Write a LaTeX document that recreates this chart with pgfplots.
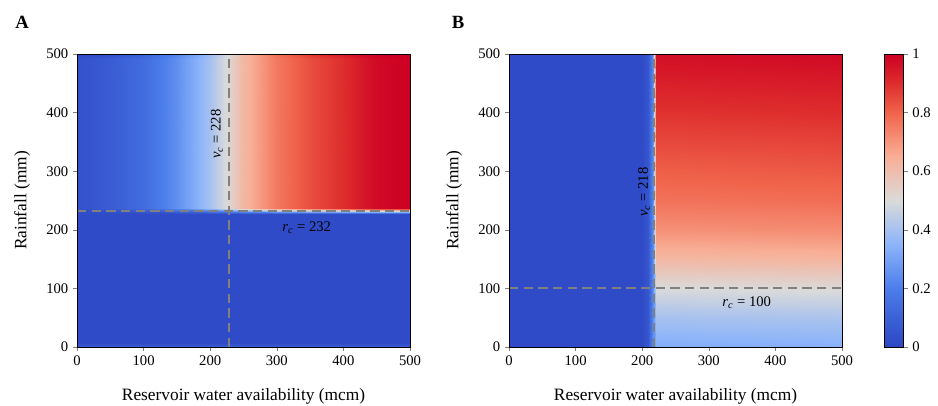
\documentclass[border=0pt]{standalone}
\usepackage{fontspec}
\setmainfont{Liberation Serif}
\usepackage{pgfplots}
\pgfplotsset{compat=1.18}

% blue - grey - red map
\pgfplotsset{
  colormap={cw}{
    rgb255(0pt)=(45,70,195)
    rgb255(4pt)=(75,125,235)
    rgb255(7pt)=(140,180,250)
    rgb255(10pt)=(218,218,218)
    rgb255(13pt)=(248,175,150)
    rgb255(16pt)=(240,100,75)
    rgb255(18pt)=(222,45,45)
    rgb255(20pt)=(205,0,35)
  },
  /pgf/number format/assume math mode=true,
  heat/.style={
    scale only axis,
    width=249.75pt, height=219.75pt,
    xmin=0, xmax=500, ymin=0, ymax=500,
    xtick={0,100,...,500}, ytick={0,100,...,500},
    tick align=outside, xtick pos=bottom, ytick pos=left,
    major tick length=3pt,
    axis on top,
    colormap name=cw,
    point meta min=0, point meta max=1,
    tick label style={font=\fontsize{11}{11}\selectfont},
    every axis x label/.style={at={(axis description cs:0.5,-0.167)}, anchor=center,
      font=\fontsize{13}{13}\selectfont},
    every axis y label/.style={at={(axis description cs:-0.165,0.5)}, rotate=90, anchor=center,
      font=\fontsize{13}{13}\selectfont},
    xlabel={Reservoir water availability (mcm)},
    ylabel={Rainfall (mm)},
  },
  crit/.style={gray, line width=1.5pt, dash pattern=on 7pt off 4pt},
}

\pgfplotstableread{
x y c
0 0 0.10
50 0 0.10
100 0 0.10
150 0 0.10
200 0 0.10
228 0 0.10
250 0 0.10
300 0 0.10
350 0 0.10
400 0 0.10
430 0 0.10
450 0 0.10
500 0 0.10
0 6 0.02
50 6 0.02
100 6 0.02
150 6 0.02
200 6 0.02
228 6 0.02
250 6 0.02
300 6 0.02
350 6 0.02
400 6 0.02
430 6 0.02
450 6 0.02
500 6 0.02
0 227 0.02
50 227 0.02
100 227 0.02
150 227 0.02
200 227 0.02
228 227 0.02
250 227 0.02
300 227 0.02
350 227 0.02
400 227 0.02
430 227 0.02
450 227 0.02
500 227 0.02
0 238 0.04
50 238 0.08
100 238 0.14
150 238 0.25
200 238 0.40
228 238 0.52
250 238 0.62
300 238 0.76
350 238 0.84
400 238 0.90
430 238 0.95
450 238 0.98
500 238 1.00
0 492 0.04
50 492 0.08
100 492 0.14
150 492 0.25
200 492 0.40
228 492 0.52
250 492 0.62
300 492 0.76
350 492 0.84
400 492 0.90
430 492 0.95
450 492 0.98
500 492 1.00
0 500 0.00
50 500 0.03
100 500 0.10
150 500 0.22
200 500 0.38
228 500 0.50
250 500 0.62
300 500 0.78
350 500 0.88
400 500 0.94
430 500 0.98
450 500 1.00
500 500 1.00
}\dataA

\pgfplotstableread{
x y c
0 0 0.02
200 0 0.02
208 0 0.06
216 0 0.25
220 0 0.33
500 0 0.34
0 50 0.02
200 50 0.02
208 50 0.06
216 50 0.25
220 50 0.40
500 50 0.41
0 100 0.02
200 100 0.02
208 100 0.06
216 100 0.25
220 100 0.50
500 100 0.51
0 150 0.02
200 150 0.02
208 150 0.06
216 150 0.25
220 150 0.62
500 150 0.63
0 200 0.02
200 200 0.02
208 200 0.06
216 200 0.25
220 200 0.71
500 200 0.72
0 250 0.02
200 250 0.02
208 250 0.06
216 250 0.25
220 250 0.77
500 250 0.78
0 300 0.02
200 300 0.02
208 300 0.06
216 300 0.25
220 300 0.81
500 300 0.82
0 350 0.02
200 350 0.02
208 350 0.06
216 350 0.25
220 350 0.85
500 350 0.86
0 400 0.02
200 400 0.02
208 400 0.06
216 400 0.25
220 400 0.89
500 400 0.90
0 450 0.02
200 450 0.02
208 450 0.06
216 450 0.25
220 450 0.93
500 450 0.94
0 500 0.02
200 500 0.02
208 500 0.06
216 500 0.25
220 500 0.97
500 500 0.98
}\dataB

\begin{document}
\begin{tikzpicture}
\useasboundingbox (-57.75pt,-43.5pt) rectangle (645.75pt,260.25pt);

% panel A
\begin{axis}[heat, name=pa, at={(0,0)}, anchor=origin]
\addplot[surf, shader=interp, mesh/cols=13, point meta=\thisrow{c}] table[x=x, y=y] {\dataA};
\addplot[crit] coordinates {(228,0) (228,500)};
\addplot[crit] coordinates {(0,232) (500,232)};
\node[rotate=90, font=\fontsize{11}{11}\selectfont] at (axis cs:210,363) {\textit{v}\textsubscript{\textit{c}} = 228};
\node[font=\fontsize{11}{11}\selectfont] at (axis cs:345,203) {\textit{r}\textsubscript{\textit{c}} = 232};
\end{axis}

% panel B
\begin{axis}[heat, name=pb, at={(324pt,0)}, anchor=origin,
  colorbar,
  colorbar style={
    width=14.25pt,
    at={(parent axis.north east)}, anchor=north west, xshift=23.5pt,
    ytick={0,0.2,0.4,0.6,0.8,1},
    tick align=outside, ytick pos=right,
    major tick length=3pt,
    yticklabel style={font=\fontsize{11}{11}\selectfont},
  }]
\addplot[surf, shader=interp, mesh/cols=6, point meta=\thisrow{c}] table[x=x, y=y] {\dataB};
\addplot[crit] coordinates {(218,0) (218,500)};
\addplot[crit] coordinates {(0,100) (500,100)};
\node[rotate=90, font=\fontsize{11}{11}\selectfont] at (axis cs:203,264) {\textit{v}\textsubscript{\textit{c}} = 218};
\node[font=\fontsize{11}{11}\selectfont] at (axis cs:357,75) {\textit{r}\textsubscript{\textit{c}} = 100};
\end{axis}

\node[font=\bfseries\fontsize{14}{14}\selectfont] at ([xshift=-41.25pt,yshift=24pt]pa.north west) {A};
\node[font=\bfseries\fontsize{14}{14}\selectfont] at ([xshift=-38.25pt,yshift=24pt]pb.north west) {B};
\end{tikzpicture}
\end{document}
